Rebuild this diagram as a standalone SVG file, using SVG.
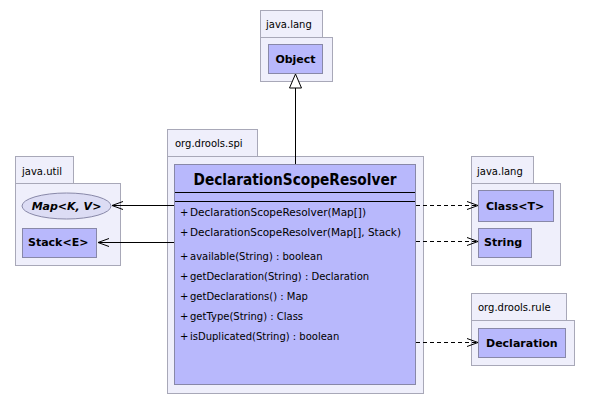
<svg xmlns="http://www.w3.org/2000/svg" width="591" height="403" viewBox="0 0 591 403">
<style>
.pkg{fill:#efeffb;stroke:#a8a8b8;stroke-width:1}
.cls{fill:#b8b8fc;stroke:#8888a8;stroke-width:1}
.pl{font-family:"DejaVu Sans",sans-serif;font-size:10px;fill:#000}
.cn{font-family:"DejaVu Sans",sans-serif;font-size:11px;font-weight:bold;fill:#000}
.m{font-family:"DejaVu Sans",sans-serif;font-size:10px;fill:#000}
.edge{stroke:#000;stroke-width:1;fill:none}
.dash{stroke-dasharray:4,3}
</style>
<defs>
<marker id="open" markerWidth="12" markerHeight="12" refX="11" refY="6" orient="auto" markerUnits="userSpaceOnUse">
<path d="M0,2 L11,6 L0,10" fill="none" stroke="#000" stroke-width="1"/>
</marker>
</defs>
<g id="pkg-java-lang-top">
<rect class="pkg" x="260.5" y="10.5" width="62" height="27"/>
<rect class="pkg" x="260.5" y="37.5" width="72" height="44"/>
<text class="pl" x="266" y="28">java.lang</text>
</g>
<g id="Object">
<rect class="cls" x="268.5" y="44.5" width="54" height="29"/>
<text class="cn" x="295.5" y="63" text-anchor="middle">Object</text>
</g>
<g id="pkg-org-drools-spi">
<rect class="pkg" x="167.5" y="129.5" width="90" height="27"/>
<rect class="pkg" x="167.5" y="156.5" width="256" height="237"/>
<text class="pl" x="175" y="147">org.drools.spi</text>
</g>
<g id="DeclarationScopeResolver">
<rect class="cls" x="174.5" y="164.5" width="241" height="220"/>
<text x="295" y="185" text-anchor="middle" font-family="DejaVu Sans,sans-serif" font-size="15" font-weight="bold" textLength="203" lengthAdjust="spacingAndGlyphs">DeclarationScopeResolver</text>
<line x1="175" y1="192.5" x2="415" y2="192.5" stroke="#000"/>
<line x1="175" y1="201.5" x2="415" y2="201.5" stroke="#000"/>
<text class="m" x="180" y="216">+</text><text class="m" x="190" y="216" textLength="176" lengthAdjust="spacingAndGlyphs">DeclarationScopeResolver(Map[])</text>
<text class="m" x="180" y="236">+</text><text class="m" x="190" y="236" textLength="211" lengthAdjust="spacingAndGlyphs">DeclarationScopeResolver(Map[], Stack)</text>
<text class="m" x="180" y="260">+</text><text class="m" x="190" y="260">available(String) : boolean</text>
<text class="m" x="180" y="280">+</text><text class="m" x="190" y="280">getDeclaration(String) : Declaration</text>
<text class="m" x="180" y="300">+</text><text class="m" x="190" y="300">getDeclarations() : Map</text>
<text class="m" x="180" y="320">+</text><text class="m" x="190" y="320">getType(String) : Class</text>
<text class="m" x="180" y="340">+</text><text class="m" x="190" y="340">isDuplicated(String) : boolean</text>
</g>
<g id="pkg-java-util">
<rect class="pkg" x="15.5" y="156.5" width="58" height="27"/>
<rect class="pkg" x="15.5" y="183.5" width="105" height="82"/>
<text class="pl" x="22" y="175">java.util</text>
</g>
<g id="Map">
<ellipse cx="66.5" cy="206" rx="44.5" ry="13" class="cls" style="fill:#dcdcf4"/>
<text class="cn" x="66.5" y="210" text-anchor="middle" font-style="italic">Map&lt;K, V&gt;</text>
</g>
<g id="Stack">
<rect class="cls" x="22.5" y="228.5" width="74" height="29"/>
<text class="cn" x="28" y="246">Stack&lt;E&gt;</text>
</g>
<g id="pkg-java-lang-right">
<rect class="pkg" x="471.5" y="156.5" width="62" height="27"/>
<rect class="pkg" x="471.5" y="183.5" width="89" height="82"/>
<text class="pl" x="477" y="175">java.lang</text>
</g>
<g id="Class">
<rect class="cls" x="478.5" y="190.5" width="75" height="31"/>
<text class="cn" x="486" y="210">Class&lt;T&gt;</text>
</g>
<g id="String">
<rect class="cls" x="478.5" y="228.5" width="53" height="29"/>
<text class="cn" x="484" y="246">String</text>
</g>
<g id="pkg-org-drools-rule">
<rect class="pkg" x="471.5" y="293.5" width="95" height="27"/>
<rect class="pkg" x="471.5" y="320.5" width="103" height="45"/>
<text class="pl" x="478" y="311">org.drools.rule</text>
</g>
<g id="Declaration">
<rect class="cls" x="478.5" y="328.5" width="87" height="29"/>
<text class="cn" x="486" y="347">Declaration</text>
</g>
<g id="connectors">
<line class="edge" x1="295.5" y1="164" x2="295.5" y2="88"/>
<polygon points="295.5,74 289.5,88 301.5,88" fill="#fff" stroke="#000" stroke-width="1"/>
<line class="edge" x1="174" y1="205.5" x2="112" y2="205.5" marker-end="url(#open)"/>
<line class="edge" x1="174" y1="242.5" x2="98" y2="242.5" marker-end="url(#open)"/>
<line class="edge dash" x1="416" y1="205.5" x2="478" y2="205.5" marker-end="url(#open)"/>
<line class="edge dash" x1="416" y1="241.5" x2="478" y2="241.5" marker-end="url(#open)"/>
<line class="edge dash" x1="416" y1="342.5" x2="478" y2="342.5" marker-end="url(#open)"/>
</g>
</svg>
